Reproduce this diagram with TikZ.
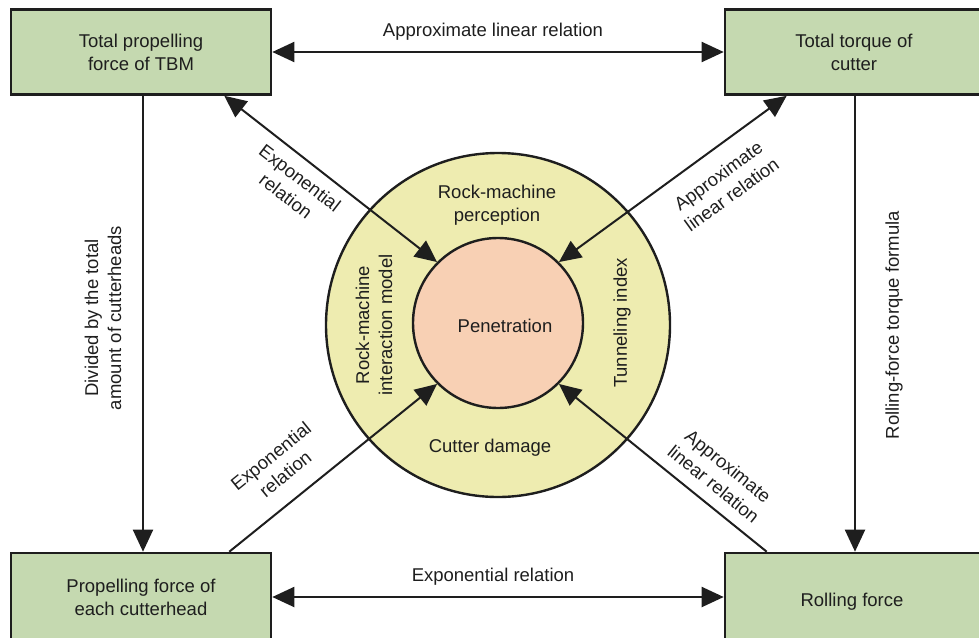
\documentclass[tikz,border=0pt]{standalone}
\usepackage{fontspec}
\setmainfont{Liberation Sans}
\usetikzlibrary{arrows.meta,calc}
\definecolor{boxgreen}{RGB}{197,217,176}
\definecolor{ringyellow}{RGB}{238,236,176}
\definecolor{corepeach}{RGB}{248,208,180}
\definecolor{ink}{RGB}{30,30,30}
\tikzset{
  box/.style={draw=ink,line width=2.6pt,fill=boxgreen,align=center,inner sep=0pt,text=ink,font=\fontsize{18.5}{23}\selectfont},
  lbl/.style={align=center,text=ink,font=\fontsize{18.5}{23}\selectfont,inner sep=0pt},
  conn/.style={draw=ink,line width=2pt},
  tip/.style={-{Triangle[length=22pt,width=20pt]}},
  tips/.style={{Triangle[length=22pt,width=20pt]}-{Triangle[length=22pt,width=20pt]}}
}
\begin{document}
\begin{tikzpicture}[x=1pt,y=-1pt]
\useasboundingbox (0,0) rectangle (979,637);
% boxes
\node[box,minimum width=260pt,minimum height=85pt] (tl) at (141,52) {Total propelling\\force of TBM};
\node[box,minimum width=258pt,minimum height=85pt] (tr) at (854,52) {Total torque of\\cutter};
\node[box,minimum width=260pt,minimum height=88pt] (bl) at (141,597) {Propelling force of\\each cutterhead};
\node[box,minimum width=258pt,minimum height=88pt] (br) at (854,597) {};
\node[lbl] (brtxt) at (852,602) {Rolling force};
% circles
\node[circle,draw=ink,line width=2.4pt,fill=ringyellow,minimum size=344pt,inner sep=0pt] (ring) at (498,325) {};
\node[circle,draw=ink,line width=2.4pt,fill=corepeach,minimum size=170pt,inner sep=0pt] (pen) at (498,323) {};
\node[lbl] (pentxt) at (505,326) {Penetration};
\node[lbl] (perc) at (497,205) {Rock-machine\\perception};
\node[lbl] (dmg) at (490,448) {Cutter damage};
\node[lbl,rotate=90] (rmim) at (374,325) {Rock-machine\\interaction model};
\node[lbl,rotate=90] (tidx) at (622,323) {Tunneling index};
% connectors
\draw[conn,tips] (tl.east) -- (tr.west);
\draw[conn,tips] (bl.east) -- (br.west);
\draw[conn,tip] ([xshift=2pt]tl.south) -- ([xshift=2pt]bl.north);
\draw[conn,tip] ([xshift=1pt]tr.south) -- ([xshift=1pt]br.north);
\draw[conn,tips] ([xshift=-48pt]tl.south east) -- (pen.135);
\draw[conn,tips] ([xshift=63pt]tr.south west) -- (pen.45);
\draw[conn,tip] ([xshift=-43pt]bl.north east) -- (pen.225);
\draw[conn,tip] ([xshift=43pt]br.north west) -- (pen.315);
% labels
\node[lbl] (ltop) at (493,32) {Approximate linear relation};
\node[lbl] (lbot) at (493,577) {Exponential relation};
\node[lbl,rotate=90] (lleft) at (103,318) {Divided by the total\\amount of cutterheads};
\node[lbl,rotate=90] (lright) at (894,325) {Rolling-force torque formula};
\node[lbl,rotate=-37.6] (ltl) at (293,187) {Exponential\\relation};
\node[lbl,rotate=36] (ltr) at (725,185) {Approximate\\linear relation};
\node[lbl,rotate=39] (lbl) at (278,465) {Exponential\\relation};
\node[lbl,rotate=-39] (lbr) at (721,475) {Approximate\\linear relation};
\end{tikzpicture}
\end{document}
